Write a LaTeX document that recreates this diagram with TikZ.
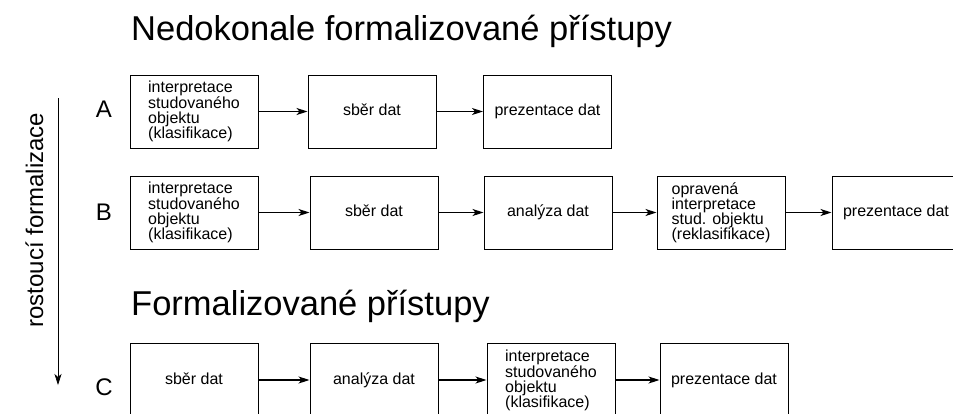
\documentclass[tikz,border=0pt]{standalone}
\usepackage{fontspec}
\setmainfont{Liberation Sans}
\usetikzlibrary{arrows.meta}

\begin{document}
\begin{tikzpicture}[x=1pt, y=-1pt,
  box/.style={draw, line width=1pt, minimum width=128pt, minimum height=73pt,
    inner sep=0pt, align=left, font=\fontsize{16}{15}\selectfont},
  onebox/.style={box, text height=11.5pt, text depth=3.5pt},
  arr/.style={-{Stealth[length=11pt,width=7pt,inset=3pt]}, line width=1.1pt},
  title/.style={anchor=base west, inner sep=0pt, font=\fontsize{34.5}{40}\selectfont},
  rowlabel/.style={anchor=base, inner sep=0pt, font=\fontsize{24}{28}\selectfont}]
  \clip (0,0) rectangle (953,413);

  \node[title] (t1) at (131,40) {Nedokonale formalizované přístupy};
  \node[title] (t2) at (131,315) {Formalizované přístupy};

  % levy okraj
  \node[rowlabel, rotate=90] (rost) at (43,220) {rostoucí formalizace};
  \coordinate (top) at (58,98);
  \coordinate (bot) at (58,385);
  \draw[-{Stealth[length=11pt,width=7pt,inset=3pt]}, line width=0.7pt] (top) -- (bot);
  \node[rowlabel] (la) at (104,117) {A};
  \node[rowlabel] (lb) at (104,220) {B};
  \node[rowlabel] (lc) at (104,395) {C};

  % A
  \node[box] (a1) at (194,111.5) {interpretace\\studovaného\\objektu\\(klasifikace)};
  \node[onebox] (a2) at (372,111.5) {sběr dat};
  \node[onebox] (a3) at (547.5,111.5) {prezentace dat};
  \draw[arr] (a1) -- (a2);
  \draw[arr] (a2) -- (a3);

  % B
  \node[box] (b1) at (194,212.5) {interpretace\\studovaného\\objektu\\(klasifikace)};
  \node[onebox] (b2) at (374,212.5) {sběr dat};
  \node[onebox] (b3) at (548,212.5) {analýza dat};
  \node[box] (b4) at (721,212.5) {opravená\\interpretace\\stud. objektu\\(reklasifikace)};
  \node[onebox] (b5) at (896,212.5) {prezentace dat};
  \draw[arr] (b1) -- (b2);
  \draw[arr] (b2) -- (b3);
  \draw[arr] (b3) -- (b4);
  \draw[arr] (b4) -- (b5);

  % C
  \node[onebox] (c1) at (194,380) {sběr dat};
  \node[onebox] (c2) at (374,380) {analýza dat};
  \node[box] (c3) at (551,380) {interpretace\\studovaného\\objektu\\(klasifikace)};
  \node[onebox] (c4) at (724,380) {prezentace dat};
  \draw[arr] (c1) -- (c2);
  \draw[arr] (c2) -- (c3);
  \draw[arr] (c3) -- (c4);
\end{tikzpicture}
\end{document}
